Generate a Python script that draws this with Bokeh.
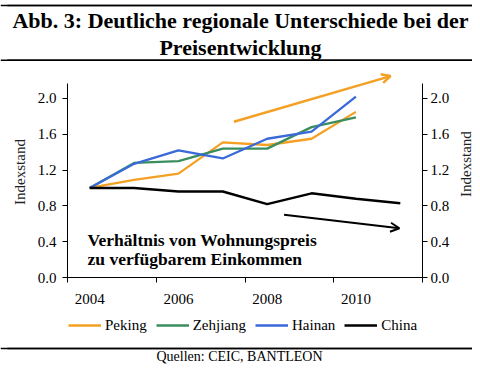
import math
from bokeh.plotting import figure
from bokeh.layouts import column, row
from bokeh.models import (FixedTicker, LinearAxis, Range1d, Label, Arrow, OpenHead, Span,
                          Legend, LegendItem, ColumnDataSource, NumeralTickFormatter)
from bokeh.embed import file_html
from bokeh.resources import INLINE

# ---------------- data ----------------
years = [2004, 2005, 2006, 2007, 2008, 2009, 2010, 2011]
peking = [1.00, 1.09, 1.16, 1.51, 1.48, 1.55, 1.85]
zehjiang = [1.00, 1.28, 1.30, 1.44, 1.44, 1.68, 1.79]
hainan = [1.00, 1.27, 1.42, 1.33, 1.55, 1.63, 2.02]
china = [1.00, 1.00, 0.96, 0.96, 0.82, 0.94, 0.88, 0.83]
series_names = ["Peking", "Zehjiang", "Hainan", "China"]
x_tick_years = [2004, 2006, 2008, 2010]
x_tick_labels = ["2004", "2006", "2008", "2010"]
y_ticks = [0.0, 0.4, 0.8, 1.2, 1.6, 2.0]
trend_up_x = [2007.25, 2010.78]
trend_up_y = [1.74, 2.25]
trend_down_x = [2008.38, 2010.98]
trend_down_y = [0.70, 0.55]

title_1 = "Abb. 3: Deutliche regionale Unterschiede bei der"
title_2 = "Preisentwicklung"
note_1 = "Verhältnis von Wohnungspreis"
note_2 = "zu verfügbarem Einkommen"
y_title = "Indexstand"
source_text = "Quellen: CEIC, BANTLEON"

# ---------------- style ----------------
FONT = "Liberation Serif"
ORANGE = "#F4A024"
GREEN = "#3A8E5E"
BLUE = "#3A6AD8"
BLACK = "#000000"
COLORS = [ORANGE, GREEN, BLUE, BLACK]
WIDTHS = [2.3, 2.3, 2.3, 2.5]
MID = 0.34  # baseline sits this many em below the middle anchor

TOTAL_W = 472
RT_W = 20
MAIN_W = TOTAL_W - RT_W
TITLE_TOP, TITLE_H = 0, 61
MAIN_TOP, MAIN_H = 61, 253
LEG_H = 22
SRC_TOP, SRC_H = 336, 30


def blank(w, h):
    f = figure(width=w, height=h, x_range=Range1d(0, w), y_range=Range1d(h, 0),
               output_backend="svg", toolbar_location=None, x_axis_type=None, y_axis_type=None,
               min_border=0, outline_line_color=None, background_fill_color="white",
               border_fill_color="white")
    f.grid.visible = False
    return f


def add_rule(f, y):
    f.segment(x0=[7], y0=[y], x1=[TOTAL_W], y1=[y], line_color=BLACK, line_width=1.6)
    f.add_layout(Span(location=y, dimension="width", line_color=BLACK, line_width=1.6))


def mid(baseline, size):
    return baseline - MID * size


# ---------------- title block ----------------
f_top = blank(TOTAL_W, TITLE_H)
add_rule(f_top, 5 - TITLE_TOP)
add_rule(f_top, 59.8 - TITLE_TOP)
for txt, base in [(title_1, 27), (title_2, 54)]:
    f_top.add_layout(Label(x=240, y=mid(base, 22) - TITLE_TOP, text=txt, text_align="center",
                           text_baseline="middle", text_font=FONT, text_font_size="22px",
                           text_font_style="bold", text_color=BLACK))

# ---------------- main chart ----------------
X0, X1 = 2003.5, 2011.5
Y0, Y1 = 0.0, 2.357
FRAME_BOTTOM = 277
p = figure(width=MAIN_W, height=MAIN_H, x_range=Range1d(X0, X1), y_range=Range1d(Y0, Y1),
           output_backend="svg", toolbar_location=None,
           min_border_left=67, min_border_right=30, min_border_top=5,
           min_border_bottom=MAIN_TOP + MAIN_H - FRAME_BOTTOM,
           outline_line_color=None, background_fill_color="white", border_fill_color="white")
p.grid.visible = False

xa = p.xaxis[0]
xa.ticker = FixedTicker(ticks=x_tick_years,
                        minor_ticks=[y - 0.5 for y in x_tick_years] + [x_tick_years[-1] + 1.5])
xa.major_label_overrides = {y: l for y, l in zip(x_tick_years, x_tick_labels)}
xa.major_tick_line_color = None
xa.minor_tick_line_color = BLACK
xa.minor_tick_in = 0
xa.minor_tick_out = 5
xa.axis_line_color = BLACK
xa.bounds = (X0, X1)
xa.major_label_text_font = FONT
xa.major_label_text_font_size = "15px"
xa.major_label_text_color = BLACK
xa.major_label_standoff = 10

ya = p.yaxis[0]
ya.ticker = FixedTicker(ticks=y_ticks)
ya.formatter = NumeralTickFormatter(format="0.0")
ya.bounds = (0, 2.17)
ya.major_tick_in = 0
ya.major_tick_out = 5
ya.minor_tick_line_color = None
ya.major_label_text_font = FONT
ya.major_label_text_font_size = "15px"
ya.major_label_text_color = BLACK
ya.major_label_standoff = 6
ya.axis_label = y_title
ya.axis_label_text_font = FONT
ya.axis_label_text_font_size = "15px"
ya.axis_label_text_font_style = "normal"
ya.axis_label_standoff = 7
ya.axis_label_text_color = "#222222"

ra = LinearAxis(ticker=FixedTicker(ticks=y_ticks), formatter=NumeralTickFormatter(format="0.0"))
ra.bounds = (0, 2.17)
ra.major_tick_in = 0
ra.major_tick_out = 5
ra.minor_tick_line_color = None
ra.major_label_text_font = FONT
ra.major_label_text_font_size = "15px"
ra.major_label_text_color = BLACK
ra.major_label_standoff = 3
p.add_layout(ra, "right")

series = [peking, zehjiang, hainan, china]
for vals, col, lw in zip(series, COLORS, WIDTHS):
    src = ColumnDataSource(dict(x=years[:len(vals)], y=vals))
    p.line("x", "y", source=src, line_color=col, line_width=lw)

p.add_layout(Arrow(x_start=trend_up_x[0], y_start=trend_up_y[0], x_end=trend_up_x[1], y_end=trend_up_y[1],
                   line_color=ORANGE, line_width=2.5,
                   end=OpenHead(size=9, line_color=ORANGE, line_width=2.5)))
p.add_layout(Arrow(x_start=trend_down_x[0], y_start=trend_down_y[0], x_end=trend_down_x[1], y_end=trend_down_y[1],
                   line_color=BLACK, line_width=2,
                   end=OpenHead(size=9, line_color=BLACK, line_width=2)))

# note text, in screen pixels measured from the plot area's lower-left corner
for txt, base in [(note_1, 245), (note_2, 264)]:
    p.add_layout(Label(x=87 - 67, y=FRAME_BOTTOM - mid(base, 17.5), x_units="screen", y_units="screen",
                       text=txt, text_align="left", text_baseline="middle",
                       text_font=FONT, text_font_size="17.5px", text_font_style="bold",
                       text_color=BLACK))

# right axis title (reads bottom to top)
f_rt = blank(RT_W, MAIN_H)
f_rt.add_layout(Label(x=13, y=178 - MAIN_TOP, text=y_title, angle=math.pi / 2, text_align="center",
                      text_baseline="middle", text_font=FONT, text_font_size="15px",
                      text_color="#222222"))

# ---------------- legend ----------------
f_leg = blank(TOTAL_W, LEG_H)
leg_renderers = [f_leg.line(x=[float("nan")], y=[float("nan")], line_color=c, line_width=w)
                 for c, w in zip(COLORS, WIDTHS)]
legend = Legend(items=[LegendItem(label=n, renderers=[r]) for n, r in zip(series_names, leg_renderers)],
                orientation="horizontal", location=(68, 1), glyph_width=33, glyph_height=20,
                label_standoff=4, spacing=9, padding=0, margin=0, border_line_color=None,
                background_fill_alpha=0, label_text_font=FONT, label_text_font_size="15px",
                label_text_color=BLACK, label_height=20)
f_leg.add_layout(legend)

# ---------------- source block ----------------
f_src = blank(TOTAL_W, SRC_H)
add_rule(f_src, 348 - SRC_TOP)
f_src.add_layout(Label(x=239, y=mid(361, 14) - SRC_TOP, text=source_text, text_align="center",
                       text_baseline="middle", text_font=FONT, text_font_size="14px",
                       text_color=BLACK))

layout = column(f_top, row(p, f_rt), f_leg, f_src)
open("out.html", "w").write(file_html(layout, INLINE))
